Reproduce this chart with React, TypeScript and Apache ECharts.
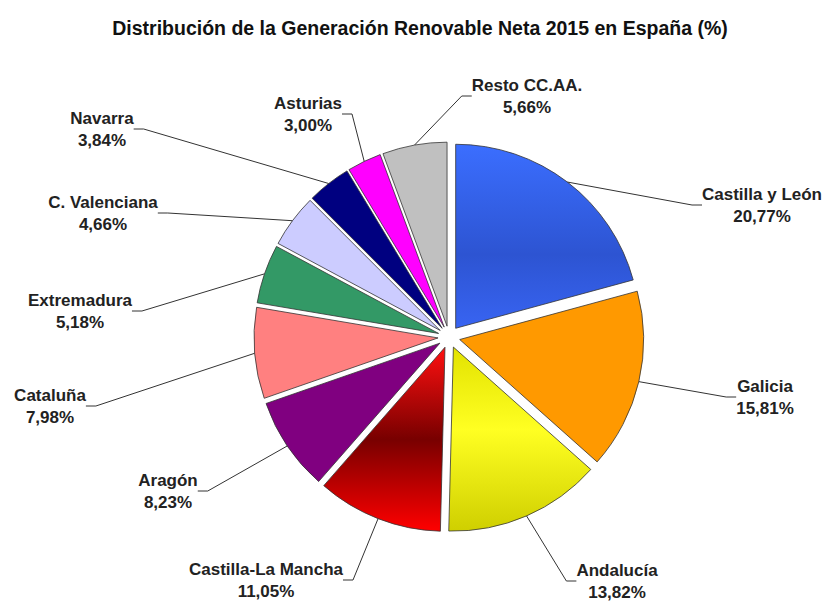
import React, { useEffect, useRef } from "react";
import * as echarts from "echarts";

const titleText = "Distribución de la Generación Renovable Neta 2015 en España (%)";
const categories = [
  "Castilla y León",
  "Galicia",
  "Andalucía",
  "Castilla-La Mancha",
  "Aragón",
  "Cataluña",
  "Extremadura",
  "C. Valenciana",
  "Navarra",
  "Asturias",
  "Resto CC.AA.",
];
const values = [20.77, 15.81, 13.82, 11.05, 8.23, 7.98, 5.18, 4.66, 3.84, 3.0, 5.66];

const lg = (stops: [number, string][]) =>
  new echarts.graphic.LinearGradient(0, 0, 0, 1, stops.map(([offset, color]) => ({ offset, color })));

const sliceColors: any[] = [
  lg([[0, "#3B6EFF"], [0.6, "#2D54D2"], [1, "#3864F2"]]),
  "#FF9900",
  lg([[0, "#E2E200"], [0.45, "#FFFF22"], [1, "#CFCF00"]]),
  lg([[0, "#FF1010"], [0.5, "#780000"], [1, "#FF0000"]]),
  "#800080",
  "#FF8080",
  "#339966",
  "#CCCCFF",
  "#000080",
  "#FF00FF",
  "#C0C0C0",
];

// label block centres (layout, px)
const labelCentres: [number, number][] = [
  [762, 205],
  [765, 397],
  [617, 581],
  [266, 580],
  [168, 491],
  [50, 406],
  [80, 311],
  [103, 213],
  [102, 129],
  [308, 114],
  [527, 96],
];

const PIE_CENTER = [449, 337];
const PIE_R = 184;
const EXPLODE = 11;

export default function App() {
  const ref = useRef<HTMLDivElement>(null);
  useEffect(() => {
    if (!ref.current) return;
    const chart = echarts.init(ref.current, null, { renderer: "svg" });
    const fmt = (p: any) =>
      p.name + "\n" + Number(p.value).toFixed(2).replace(".", ",") + "%";
    chart.setOption({
      animation: false,
      backgroundColor: "#ffffff",
      title: {
        text: titleText,
        left: 415,
        textAlign: "center",
        top: 13,
        textStyle: {
          fontFamily: "Liberation Sans",
          fontWeight: "bold",
          fontSize: 19.5,
          color: "#111",
        },
      },
      series: [
        {
          type: "pie",
          center: PIE_CENTER,
          radius: PIE_R,
          startAngle: 90,
          clockwise: true,
          selectedMode: "multiple",
          selectedOffset: EXPLODE,
          emphasis: { disabled: true },
          itemStyle: { borderColor: "#333", borderWidth: 0.8 },
          label: { show: false },
          labelLine: { show: false },
          data: categories.map((name, i) => ({
            name,
            value: values[i],
            selected: true,
            itemStyle: { color: sliceColors[i] },
          })),
        },
        {
          type: "pie",
          center: PIE_CENTER,
          radius: PIE_R + EXPLODE,
          startAngle: 90,
          clockwise: true,
          silent: true,
          z: 3,
          emphasis: { disabled: true },
          itemStyle: { color: "rgba(0,0,0,0)", borderWidth: 0 },
          label: {
            show: true,
            fontFamily: "Liberation Sans",
            fontWeight: "bold",
            fontSize: 17,
            lineHeight: 22,
            color: "#222",
            align: "center",
            formatter: fmt,
          },
          labelLine: {
            show: true,
            length: 20,
            length2: 10,
            lineStyle: { color: "#333", width: 1 },
          },
          labelLayout: (params: any) => {
            const c = labelCentres[params.dataIndex];
            return {
              x: c[0],
              y: c[1],
              align: "center",
              verticalAlign: "middle",
            };
          },
          data: categories.map((name, i) => ({ name, value: values[i] })),
        },
      ],
    });
    return () => chart.dispose();
  }, []);
  return (
    <div
      ref={ref}
      style={{ position: "fixed", left: 0, top: 0, width: 827, height: 603 }}
    />
  );
}
